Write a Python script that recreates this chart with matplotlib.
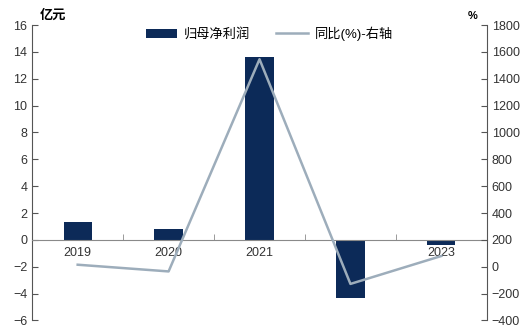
import numpy as np
import matplotlib.pyplot as plt
from matplotlib.ticker import MultipleLocator, FixedLocator

plt.rcParams['font.family'] = ['Liberation Sans', 'Noto Sans CJK SC', 'DejaVu Sans']
plt.rcParams['axes.unicode_minus'] = True

years = ['2019', '2020', '2021', '2022', '2023']
profit = [1.3, 0.8, 13.6, -4.35, -0.4]       # 归母净利润, 亿元
yoy = [15, -35, 1545, -128, 80]              # 同比, %

bar_color = '#0c2a58'
line_color = '#9dadbb'
axis_color = '#555555'
label_color = '#333333'

fig = plt.figure(figsize=(5.28, 3.29), dpi=100)
ax = fig.add_axes([0.061, 0.026, 0.861, 0.898])
x = np.arange(len(years))

bars = ax.bar(x, profit, width=0.31, color=bar_color, zorder=2, label='归母净利润')
ax.set_xlim(-0.5, len(years) - 0.5)
ax.set_ylim(-6, 16)
ax.yaxis.set_major_locator(MultipleLocator(2))

# zero-based category axis with boundary ticks pointing up
ax.spines['bottom'].set_position(('data', 0))
ax.spines['bottom'].set_color('#8a8a8a')
ax.spines['top'].set_visible(False)
ax.spines['right'].set_visible(False)
ax.spines['left'].set_color(axis_color)
ax.set_xticks(x)
ax.set_xticklabels(years)
ax.xaxis.set_minor_locator(FixedLocator(np.arange(0.5, len(years) - 0.5, 1)))
ax.tick_params(axis='x', which='major', length=0, pad=5, labelsize=9, colors=label_color)
ax.tick_params(axis='x', which='minor', direction='in', length=4, color='#8a8a8a')
ax.tick_params(axis='y', direction='in', length=4, labelsize=9, colors=label_color)
ax.tick_params(axis='y', color=axis_color)

ax2 = ax.twinx()
line, = ax2.plot(x, yoy, color=line_color, lw=1.8, zorder=3, label='同比(%)-右轴')
ax2.set_ylim(-400, 1800)
ax2.yaxis.set_major_locator(MultipleLocator(200))
for s in ['top', 'left', 'bottom']:
    ax2.spines[s].set_visible(False)
ax2.spines['right'].set_color(axis_color)
ax2.tick_params(axis='y', direction='in', length=4, labelsize=9, colors=label_color)
ax2.tick_params(axis='y', color=axis_color)

fig.text(0.075, 0.935, '亿元', fontsize=9.5, fontweight='bold', ha='left', va='bottom')
fig.text(0.905, 0.935, '%', fontsize=8, fontweight='bold', ha='right', va='bottom')

fig.legend(handles=[bars, line], loc='upper center', bbox_to_anchor=(0.51, 0.955),
           ncol=2, frameon=False, fontsize=9.5, handlelength=2.4, columnspacing=2.0,
           handletextpad=0.5)

fig.savefig('out.png', dpi=100)
